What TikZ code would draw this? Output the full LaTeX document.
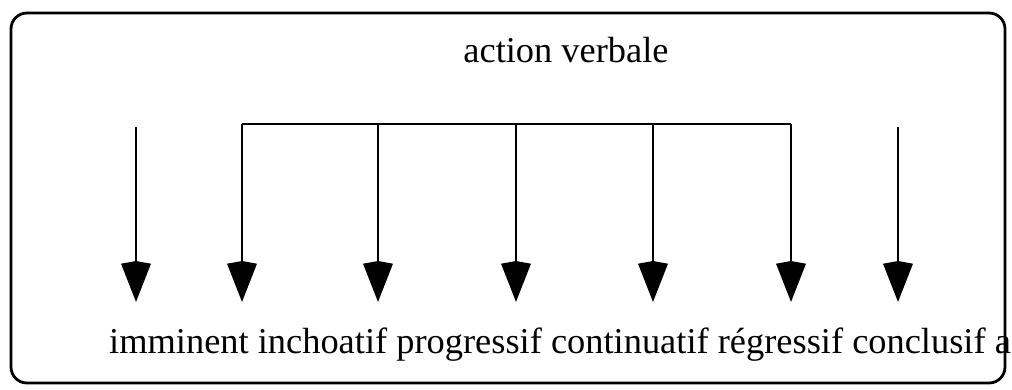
\documentclass[tikz,border=0pt]{standalone}
\usepackage{fontspec}
\setmainfont{Liberation Serif}
\usetikzlibrary{arrows.meta}
\begin{document}
\begin{tikzpicture}[x=1pt,y=-1pt,
  frame/.style={draw,line width=2.8pt,rounded corners=16pt},
  conn/.style={line width=2.8pt},
  arr/.style={conn,-{Stealth[length=38pt,width=29pt,inset=-3pt]}},
  lbl/.style={font=\fontsize{36.4}{40}\selectfont,inner sep=0pt}]
\useasboundingbox (0,0) rectangle (1012,389);
\draw[frame] (11,13) rectangle (1005,383);
\node[lbl,anchor=base] (top) at (566,62) {action verbale};
\node[lbl,anchor=base west] (bottom) at (109,353) {imminent inchoatif progressif continuatif régressif conclusif a};
\coordinate (bl) at (242,124);
\coordinate (br) at (791,124);
\draw[conn] (bl) -- (br);
\foreach \n/\x/\y in {s1/136/127,s7/898/127}{\coordinate (\n) at (\x,\y);}
\foreach \n/\x in {s2/242,s3/378,s4/516,s5/653,s6/791}{\coordinate (\n) at (\x,124);}
\foreach \n/\x in {t1/136,t2/242,t3/378,t4/516,t5/653,t6/791,t7/898}{\coordinate (\n) at (\x,302);}
\foreach \i in {1,...,7}{\draw[arr] (s\i) -- (t\i);}
\end{tikzpicture}
\end{document}
